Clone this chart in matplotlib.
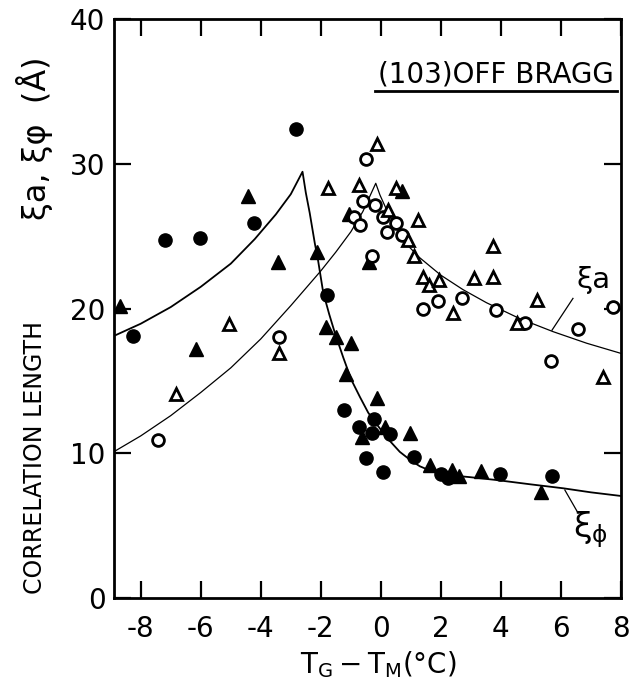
import matplotlib.pyplot as plt

# filled circles
fc_x = [-8.26, -7.2, -6.01, -4.23, -2.84, -1.81, -1.22, -0.72, -0.23, -0.31, 0.3,
        -0.5, 0.08, 1.1, 2.0, 2.24, 3.97, 5.69]
fc_y = [18.1, 24.7, 24.9, 25.9, 32.4, 20.9, 13.0, 11.8, 12.4, 11.4, 11.3,
        9.65, 8.73, 9.74, 8.6, 8.3, 8.55, 8.45]

# filled triangles
ft_x = [-8.68, -6.17, -4.44, -3.42, -2.12, -1.83, -1.48, -1.01, -1.17, -1.06, 0.69,
        -0.39, -0.14, 0.13, -0.62, 0.98, 1.63, 2.38, 2.6, 3.32, 5.32]
ft_y = [20.2, 17.2, 27.8, 23.2, 23.9, 18.7, 18.05, 17.6, 15.5, 26.5, 28.1,
        23.2, 13.8, 11.8, 11.1, 11.4, 9.2, 8.85, 8.4, 8.8, 7.3]

# open circles
oc_x = [-7.42, -3.39, -0.48, -0.59, -0.2, 0.08, -0.9, -0.68, 0.52, 0.19, 0.72,
        -0.28, 1.41, 1.91, 2.69, 3.83, 4.8, 6.58, 7.74, 5.66]
oc_y = [10.9, 18.0, 30.3, 27.45, 27.15, 26.3, 26.3, 25.8, 25.9, 25.3, 25.1,
        23.6, 20.0, 20.5, 20.7, 19.9, 19.0, 18.6, 20.1, 16.4]

# open triangles
ot_x = [-6.84, -5.06, -3.39, -1.76, -0.72, -0.14, 0.5, 0.24, 1.24, 0.91, 1.1,
        1.41, 1.61, 1.94, 2.39, 3.1, 3.72, 3.72, 4.52, 5.21, 7.39]
ot_y = [14.1, 18.9, 16.9, 28.3, 28.5, 31.4, 28.3, 26.8, 26.1, 24.7, 23.6,
        22.2, 21.6, 22.0, 19.7, 22.1, 22.2, 24.3, 19.0, 20.6, 15.3]

# fitted curve xi_phi
phi_x = [-8.9, -8.0, -7.0, -6.0, -5.0, -4.2, -3.5, -3.0, -2.61,
         -2.5, -2.37, -2.2, -2.09, -1.92, -1.72, -1.53, -1.25, -0.98, -0.7,
         -0.42, -0.1, 0.19, 0.63, 1.0, 1.3, 1.7, 2.2, 2.97, 3.86, 5.0, 6.08, 7.0, 8.0]
phi_y = [18.1, 18.95, 20.1, 21.5, 23.1, 24.8, 26.5, 27.9, 29.45,
         28.0, 26.6, 24.5, 23.3, 21.1, 19.6, 18.3, 16.6, 15.06, 13.9,
         12.8, 11.9, 11.1, 10.1, 9.5, 9.1, 8.75, 8.5, 8.35, 8.15, 7.85, 7.58, 7.3, 7.05]

# fitted curve xi_a
a_x = [-8.9, -8.0, -7.0, -6.0, -5.0, -4.0, -3.0, -2.0, -1.5, -1.0, -0.6, -0.17,
       -0.03, 0.24, 0.6, 0.97, 1.3, 2.0, 2.74, 3.52, 4.63, 5.74, 6.86, 8.0]
a_y = [10.1, 11.2, 12.6, 14.2, 15.9, 17.9, 20.2, 22.6, 23.9, 25.3, 26.7, 28.65,
       27.84, 26.6, 25.3, 24.2, 23.5, 22.3, 21.3, 20.4, 19.3, 18.4, 17.6, 16.9]

x_ticks = [-8, -6, -4, -2, 0, 2, 4, 6, 8]
y_ticks = [0, 10, 20, 30, 40]

plt.rcParams['font.family'] = ['DejaVu Sans']
plt.rcParams['axes.unicode_minus'] = False

fig = plt.figure(figsize=(6.3, 6.94), dpi=100)
ax = fig.add_axes([0.1805, 0.1383, 0.8052, 0.8343])

ax.plot(phi_x, phi_y, color='black', lw=1.3, zorder=2)
ax.plot(a_x, a_y, color='black', lw=0.9, zorder=2)

ax.plot(fc_x, fc_y, 'o', ms=9.5, mfc='black', mec='black', zorder=3)
ax.plot(ft_x, ft_y, '^', ms=10, mfc='black', mec='black', zorder=3)
ax.plot(oc_x, oc_y, 'o', ms=8.5, mfc='white', mec='black', mew=2, zorder=4)
ax.plot(ot_x, ot_y, '^', ms=9, mfc='white', mec='black', mew=2, zorder=4)

ax.set_xlim(-8.9, 8.0)
ax.set_ylim(0, 40)
ax.set_xticks(x_ticks)
ax.set_yticks(y_ticks)
ax.tick_params(direction='in', length=12, width=1.6, top=True, right=True,
               labelsize=20)
ax.tick_params(axis='x', pad=12)
ax.tick_params(axis='y', pad=6)
for s in ax.spines.values():
    s.set_linewidth(2)

# labels on curves
ax.plot([5.7, 6.4], [18.5, 20.7], color='black', lw=0.9)
ax.text(7.07, 22.0, 'ξa', fontsize=21, ha='center', va='center')
ax.plot([6.13, 6.57], [7.46, 5.87], color='black', lw=0.9)
ax.text(6.97, 4.7, r'$\mathrm{\xi_{\phi}}$', fontsize=24, ha='center', va='center')

# panel title
ax.text(0.753, 0.905, '(103)OFF BRAGG', fontsize=20, ha='center', va='center',
        transform=ax.transAxes)
ax.plot([0.515, 0.992], [0.875, 0.875], color='black', lw=2,
        transform=ax.transAxes, clip_on=False)

fig.text(0.055, 1 - 457 / 694, 'CORRELATION LENGTH', rotation=90, fontsize=17,
         ha='center', va='center')
fig.text(0.055, 1 - 138 / 694, 'ξa, ξφ  (Å)', rotation=90, fontsize=23,
         ha='center', va='center')
fig.text(0.6, 1 - 665 / 694, r'$\mathrm{T_G - T_M}$(°C)', fontsize=20,
         ha='center', va='center')

fig.savefig('out.png', dpi=100)
